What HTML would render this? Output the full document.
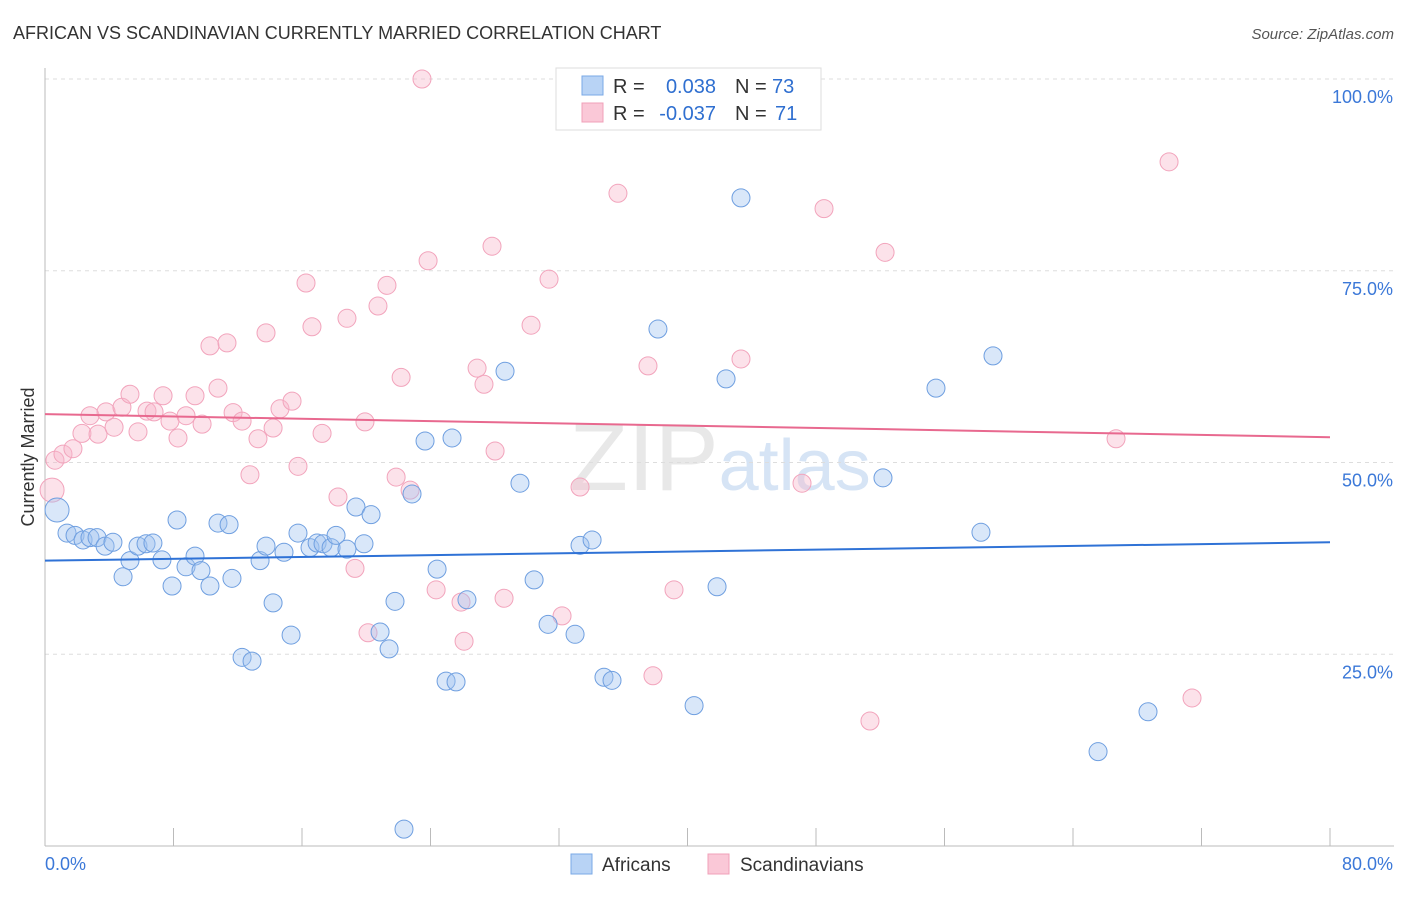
<!DOCTYPE html>
<html><head><meta charset="utf-8"><style>
body{margin:0;background:#fff;font-family:"Liberation Sans",sans-serif}
svg text{font-family:"Liberation Sans",sans-serif}
</style></head><body>
<svg id="chart" width="1406" height="892" xmlns="http://www.w3.org/2000/svg">
<text x="13" y="39" font-size="18" fill="#333">AFRICAN VS SCANDINAVIAN CURRENTLY MARRIED CORRELATION CHART</text>
<text x="1394" y="39" font-size="15" fill="#555" text-anchor="end" font-style="italic">Source: ZipAtlas.com</text>
<text x="720" y="490" font-size="96" fill="#e8e8e8" text-anchor="middle" font-family="Liberation Serif">ZIP<tspan fill="#d6e4f5" font-family="Liberation Sans" font-size="72">atlas</tspan></text>
<g id="grid"></g>
<g id="axes"></g>
<g id="marks"></g>
<g id="lines"></g>
<text transform="translate(34,457) rotate(-90)" font-size="18" fill="#333" text-anchor="middle">Currently Married</text>
<g>
<rect x="556" y="68" width="265" height="62" fill="#fff" stroke="#ddd"/>
<rect x="582" y="76" width="21" height="19" fill="#b8d3f5" stroke="#7aa8e6"/>
<rect x="582" y="103" width="21" height="19" fill="#fac8d7" stroke="#f0a0b8"/>
<text x="613" y="93" font-size="20" fill="#333">R =</text>
<text x="716" y="93" font-size="20" fill="#2f6fd0" text-anchor="end">0.038</text>
<text x="735" y="93" font-size="20" fill="#333">N =</text>
<text x="772" y="93" font-size="20" fill="#2f6fd0">73</text>
<text x="613" y="120" font-size="20" fill="#333">R =</text>
<text x="716" y="120" font-size="20" fill="#2f6fd0" text-anchor="end">-0.037</text>
<text x="735" y="120" font-size="20" fill="#333">N =</text>
<text x="775" y="120" font-size="20" fill="#2f6fd0">71</text>
</g>
<g>
<rect x="571" y="854" width="21" height="20" fill="#b8d3f5" stroke="#7aa8e6"/>
<text x="602" y="871" font-size="19" fill="#333">Africans</text>
<rect x="708" y="854" width="21" height="20" fill="#fac8d7" stroke="#f0a0b8"/>
<text x="740" y="871" font-size="19" fill="#333">Scandinavians</text>
</g>
</svg>
<script>
const xTicks=[0,8,16,24,32,40,48,56,64,72,80];
const yTicks=[25,50,75,100];
const yTickLabels=["25.0%","50.0%","75.0%","100.0%"];
const africansX=[0.75,1.37,1.87,2.37,2.80,3.24,3.74,4.23,4.86,5.29,5.79,6.29,6.72,7.28,7.91,8.22,8.78,9.34,9.71,10.27,10.77,11.46,11.64,12.27,12.89,13.39,13.76,14.20,14.88,15.32,15.75,16.50,16.94,17.31,17.81,18.12,18.80,19.36,19.86,20.30,20.86,21.42,21.79,22.35,22.85,23.66,24.41,24.97,25.34,25.59,26.27,28.64,29.57,30.45,31.32,33.00,33.31,34.06,34.80,35.30,38.16,40.41,41.84,42.40,43.33,52.17,55.47,58.27,59.02,65.56,68.67];
const africansY=[43.8,40.8,40.5,39.9,40.2,40.2,39.1,39.6,35.1,37.2,39.1,39.4,39.5,37.3,33.9,42.5,36.4,37.8,35.9,33.9,42.1,41.9,34.9,24.6,24.1,37.2,39.1,31.7,38.3,27.5,40.8,38.9,39.5,39.4,38.9,40.5,38.7,44.2,39.4,43.2,27.9,25.7,31.9,2.2,45.9,52.8,36.1,21.5,53.2,21.4,32.1,61.9,47.3,34.7,28.9,27.6,39.2,39.9,22.0,21.6,67.4,18.3,33.8,60.9,84.5,48.0,59.7,40.9,63.9,12.3,17.5];
const scandX=[0.44,0.62,1.12,1.74,2.30,2.80,3.30,3.80,4.30,4.79,5.29,5.79,6.35,6.79,7.35,7.78,8.28,8.78,9.34,9.78,10.27,10.77,11.33,11.71,12.27,12.76,13.26,13.76,14.20,14.63,15.38,15.75,16.25,16.62,17.25,18.24,18.80,19.30,19.92,20.11,20.73,21.29,21.86,22.17,22.73,23.85,24.35,25.90,26.09,26.90,27.33,27.83,28.02,28.58,30.26,31.38,32.19,33.31,35.67,37.54,37.85,39.16,43.33,47.13,48.50,51.36,52.30,66.68,69.98,71.41,23.47];
const scandY=[46.4,50.3,51.1,51.8,53.8,56.1,53.7,56.6,54.6,57.2,58.9,54.0,56.7,56.6,58.7,55.4,53.2,56.1,58.7,55.0,65.2,59.7,65.6,56.5,55.4,48.4,53.1,66.9,54.5,57.0,58.0,49.5,73.4,67.7,53.8,45.5,68.8,36.2,55.3,27.8,70.4,73.1,48.1,61.1,46.4,76.3,33.4,31.8,26.7,62.3,60.2,78.2,51.5,32.3,67.9,73.9,30.0,46.8,85.1,62.6,22.2,33.4,63.5,47.3,83.1,16.3,77.4,53.1,89.2,19.3,100.0];
const africansTrend=[37.2,39.6];
const scandTrend=[56.3,53.3];

const NS="http://www.w3.org/2000/svg";
const X=v=>45+v/80*1285;
const Y=v=>846-v/100*767;
function mk(tag,attrs,parent){const e=document.createElementNS(NS,tag);for(const k in attrs)e.setAttribute(k,attrs[k]);parent.appendChild(e);return e;}
const grid=document.getElementById('grid'),axes=document.getElementById('axes'),marks=document.getElementById('marks'),lines=document.getElementById('lines');
yTicks.forEach((t,i)=>{
  const g=mk('line',{x1:45,x2:1394,y1:Y(t),y2:Y(t),stroke:'#ddd','stroke-dasharray':'4,4'},grid);
  
  
  const l=mk('text',{x:1393,y:Y(t)+24,'font-size':18,fill:'#3b78d8','text-anchor':'end'},axes);
  l.textContent=yTickLabels[i];
  
  
});
const ya=mk('line',{x1:45,x2:45,y1:68,y2:846,stroke:'#bbb'},axes);


const xa=mk('line',{x1:45,x2:1394,y1:846,y2:846,stroke:'#bbb'},axes);


xTicks.forEach(t=>{
  const tk=mk('line',{x1:X(t),x2:X(t),y1:828,y2:846,stroke:'#bbb'},axes);
  
  
});
const xl0=mk('text',{x:45,y:870,'font-size':18,fill:'#3b78d8'},axes);xl0.textContent=xTicks[0].toFixed(1)+'%';


const xl1=mk('text',{x:1393,y:870,'font-size':18,fill:'#3b78d8','text-anchor':'end'},axes);xl1.textContent=xTicks[xTicks.length-1].toFixed(1)+'%';


function pts(xs,ys,fill,stroke,name){xs.forEach((x,i)=>{
  const r=(i===0)?12:9;
  const c=mk('circle',{cx:X(x),cy:Y(ys[i]),r:r,fill:fill,stroke:stroke,'stroke-width':1},marks);
  
  
});}
pts(scandX,scandY,'rgba(248,182,202,0.4)','#f2a4bc','scandinavian-point');
pts(africansX,africansY,'rgba(160,196,240,0.4)','#6f9fe0','african-point');
const bl=mk('line',{x1:X(0),x2:X(80),y1:Y(africansTrend[0]),y2:Y(africansTrend[1]),stroke:'#2f72d6','stroke-width':2},lines);


const pl=mk('line',{x1:X(0),x2:X(80),y1:Y(scandTrend[0]),y2:Y(scandTrend[1]),stroke:'#e8698f','stroke-width':2},lines);


</script>
</body></html>
